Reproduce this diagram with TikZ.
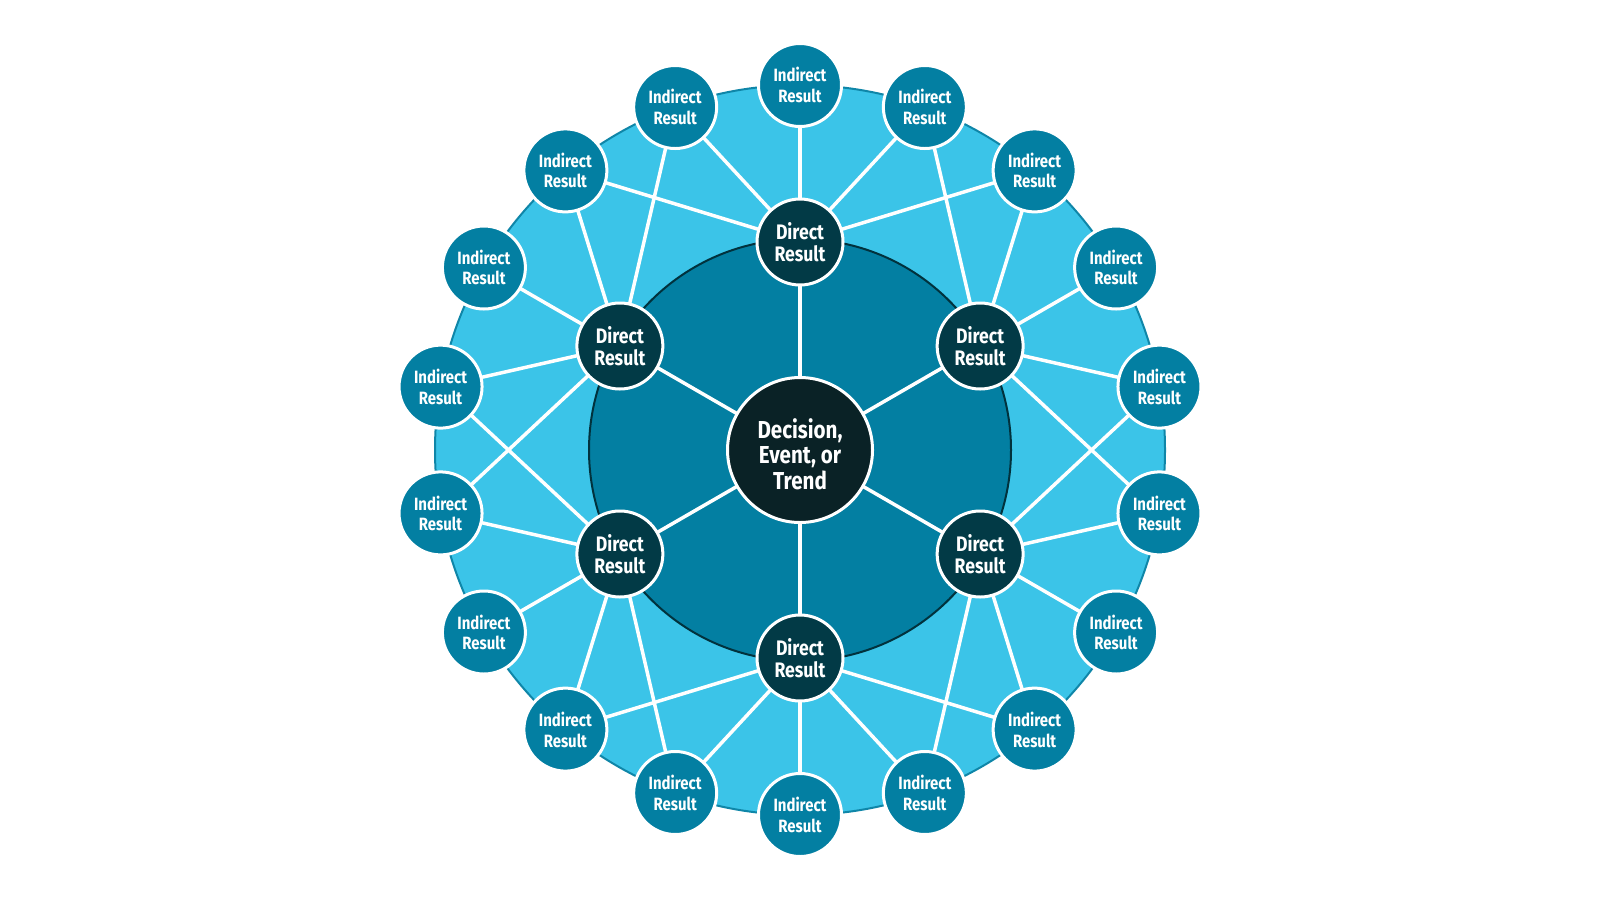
\documentclass[tikz,border=0pt]{standalone}
\usepackage{fontspec}
\setmainfont{Fira Sans}[FakeStretch=0.84]
\definecolor{lightb}{HTML}{3BC4E8}
\definecolor{midb}{HTML}{037FA2}
\definecolor{ringb}{HTML}{0F86A8}
\definecolor{darkb}{HTML}{023A46}
\definecolor{darkerb}{HTML}{0A2226}
\definecolor{inedge}{HTML}{01323D}
\pgfdeclarelayer{back}
\pgfdeclarelayer{lines}
\pgfsetlayers{back,lines,main}
\tikzset{
  indnode/.style={circle, draw=white, line width=3pt, fill=midb, minimum size=83pt, inner sep=0pt,
    text=white, align=center, font=\bfseries\fontsize{17.8}{20.8}\selectfont},
  dirnode/.style={circle, draw=white, line width=3pt, fill=darkb, minimum size=86pt, inner sep=0pt,
    text=white, align=center, font=\bfseries\fontsize{21}{22.5}\selectfont},
  cennode/.style={circle, draw=white, line width=3pt, fill=darkerb, minimum size=145pt, inner sep=0pt,
    text=white, align=center, font=\bfseries\fontsize{24.5}{25}\selectfont},
  link/.style={white, line width=3.5pt}
}
\begin{document}
\begin{tikzpicture}[x=1pt,y=-1pt]
\useasboundingbox (0,0) rectangle (1600,900);
\coordinate (o) at (800,450);
\begin{pgfonlayer}{back}
  \fill[lightb, draw=ringb, line width=2pt] (o) circle (365);
  \fill[midb, draw=inedge, line width=2pt] (o) circle (211);
\end{pgfonlayer}
\node[cennode] (c) at (o) {\raisebox{-8pt}[\height][\depth]{\begin{tabular}{@{}c@{}}Decision,\\Event, or\\Trend\end{tabular}}};
\foreach \k in {1,...,6} {
  \pgfmathsetmacro\a{90-60*(\k-1)}
  \node[dirnode] (d\k) at ({800+208*cos(\a)},{450-208*sin(\a)}) {Direct\\Result};
}
\foreach \j in {1,...,18} {
  \pgfmathsetmacro\b{90-20*(\j-1)}
  \node[indnode] (i\j) at ({800+365*cos(\b)},{450-365*sin(\b)}) {Indirect\\Result};
}
\begin{pgfonlayer}{lines}
  \foreach \k in {1,...,6} {
    \draw[link] (c.center) -- (d\k.center);
    \foreach \o in {-2,...,2} {
      \pgfmathtruncatemacro\j{mod(3*\k-3+\o+18,18)+1}
      \draw[link] (d\k.center) -- (i\j.center);
    }
  }
\end{pgfonlayer}
\end{tikzpicture}
\end{document}
